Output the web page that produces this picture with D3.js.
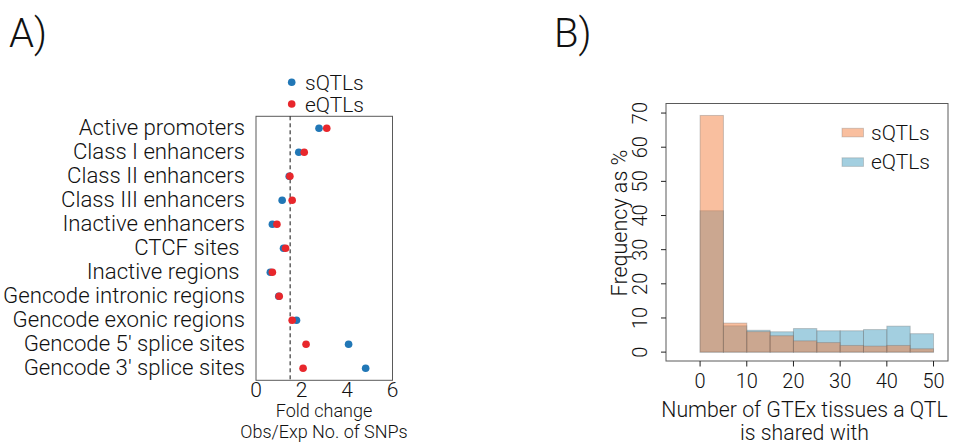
<!DOCTYPE html>
<html>
<head>
<meta charset="utf-8">
<script src="https://cdn.jsdelivr.net/npm/d3@7"></script>
<style>
  html, body { margin: 0; padding: 0; background: #fff; }
  svg text { font-family: Roboto, "Liberation Sans", Arial, sans-serif; font-weight: 300; fill: #111; white-space: pre; }
</style>
</head>
<body>
<svg id="fig" width="959" height="446"></svg>
<script>
// Panel A: enrichment of QTL SNPs in regulatory annotations
const categories = [
  "Active promoters", "Class I enhancers", "Class II enhancers", "Class III enhancers",
  "Inactive enhancers", "CTCF sites ", "Inactive regions ", "Gencode intronic regions",
  "Gencode exonic regions", "Gencode 5' splice sites", "Gencode 3' splice sites"
];
const sqtlFold = [2.77, 1.88, 1.46, 1.15, 0.72, 1.21, 0.63, 1.00, 1.78, 4.07, 4.82];
const eqtlFold = [3.11, 2.12, 1.49, 1.59, 0.92, 1.30, 0.72, 1.02, 1.59, 2.20, 2.07];
const referenceFold = 1.5;
const foldTicks = [0, 2, 4, 6];

// Panel B: tissue sharing histogram (percent of QTLs per bin of 5 tissues)
const binStarts = [0, 5, 10, 15, 20, 25, 30, 35, 40, 45];
const binWidth = 5;
const sqtlPct = [69.3, 8.5, 6.0, 4.8, 3.3, 2.8, 1.95, 1.76, 1.95, 0.98];
const eqtlPct = [41.4, 7.7, 6.4, 5.96, 6.9, 6.25, 6.25, 6.6, 7.6, 5.4];
const shareTicks = [0, 10, 20, 30, 40, 50];
const freqTicks = [0, 10, 20, 30, 40, 50, 60, 70];

const dotColors = { s: "#2177b6", e: "#e8272c" };
const histColors = { s: "#f3803f", e: "#47a0c2" };

const svg = d3.select("#fig");
const boxStroke = "#5a5a5a";

// ---------- Panel A ----------
const xA = d3.scaleLinear().domain([0, 6]).range([256, 392.5]);
const yA = d3.scaleLinear().domain([-0.5, categories.length - 0.5]).range([116.3, 380.3]);
const gA = svg.append("g");

gA.append("rect")
  .attr("x", xA(0)).attr("y", yA(-0.5))
  .attr("width", xA(6) - xA(0)).attr("height", yA(categories.length - 0.5) - yA(-0.5))
  .attr("fill", "none").attr("stroke", boxStroke).attr("stroke-width", 1);

gA.append("line")
  .attr("x1", xA(referenceFold)).attr("x2", xA(referenceFold))
  .attr("y1", yA(-0.5)).attr("y2", yA(categories.length - 0.5))
  .attr("stroke", "#111").attr("stroke-width", 1).attr("stroke-dasharray", "4,3");

gA.selectAll("text.cat").data(categories).join("text")
  .attr("class", "cat")
  .attr("x", 245).attr("y", (d, i) => yA(i) + 7)
  .attr("text-anchor", "end").attr("font-size", 22.2)
  .text(d => d);

gA.selectAll("circle.s").data(sqtlFold).join("circle")
  .attr("class", "s").attr("cx", d => xA(d)).attr("cy", (d, i) => yA(i))
  .attr("r", 3.8).attr("fill", dotColors.s);
gA.selectAll("circle.e").data(eqtlFold).join("circle")
  .attr("class", "e").attr("cx", d => xA(d)).attr("cy", (d, i) => yA(i))
  .attr("r", 3.8).attr("fill", dotColors.e);

gA.selectAll("text.xt").data(foldTicks).join("text")
  .attr("class", "xt").attr("x", d => xA(d)).attr("y", 397)
  .attr("text-anchor", "middle").attr("font-size", 21).text(d => d);

gA.append("text").attr("x", 324).attr("y", 417).attr("text-anchor", "middle")
  .attr("font-size", 18).text("Fold change");
gA.append("text").attr("x", 324).attr("y", 437.5).attr("text-anchor", "middle")
  .attr("font-size", 18).text("Obs/Exp No. of SNPs");

// legend
const legA = [{ label: "sQTLs", c: dotColors.s }, { label: "eQTLs", c: dotColors.e }];
legA.forEach((d, i) => {
  gA.append("circle").attr("cx", 291.7).attr("cy", 82.3 + i * 21.7).attr("r", 3.8).attr("fill", d.c);
  gA.append("text").attr("x", 305).attr("y", 90 + i * 21.7).attr("font-size", 21).text(d.label);
});

svg.append("text").attr("x", 9).attr("y", 47).attr("font-size", 40).text("A)");

// ---------- Panel B ----------
const xB = d3.scaleLinear().domain([-7.3, 53.1]).range([666, 948]);
const yB = d3.scaleLinear().domain([-2.6, 72.8]).range([361, 103.5]);
const gB = svg.append("g");

const barStroke = "rgba(110,110,110,0.35)";
gB.selectAll("rect.e").data(eqtlPct).join("rect")
  .attr("class", "e")
  .attr("x", (d, i) => xB(binStarts[i])).attr("y", d => yB(d))
  .attr("width", (d, i) => xB(binStarts[i] + binWidth) - xB(binStarts[i]))
  .attr("height", d => yB(0) - yB(d))
  .attr("fill", histColors.e).attr("fill-opacity", 0.5)
  .attr("stroke", barStroke).attr("stroke-width", 1);
gB.selectAll("rect.s").data(sqtlPct).join("rect")
  .attr("class", "s")
  .attr("x", (d, i) => xB(binStarts[i])).attr("y", d => yB(d))
  .attr("width", (d, i) => xB(binStarts[i] + binWidth) - xB(binStarts[i]))
  .attr("height", d => yB(0) - yB(d))
  .attr("fill", histColors.s).attr("fill-opacity", 0.5)
  .attr("stroke", barStroke).attr("stroke-width", 1);

gB.append("rect")
  .attr("x", xB(-7.3)).attr("y", yB(72.8))
  .attr("width", xB(53.1) - xB(-7.3)).attr("height", yB(-2.6) - yB(72.8))
  .attr("fill", "none").attr("stroke", boxStroke).attr("stroke-width", 1);

// x axis ticks + labels
gB.selectAll("line.xt").data(shareTicks).join("line")
  .attr("class", "xt").attr("x1", d => xB(d)).attr("x2", d => xB(d))
  .attr("y1", 361).attr("y2", 366.5).attr("stroke", "#222");
gB.selectAll("text.xt").data(shareTicks).join("text")
  .attr("class", "xt").attr("x", d => xB(d)).attr("y", 388)
  .attr("text-anchor", "middle").attr("font-size", 20).text(d => d);

// y axis ticks + rotated labels
gB.selectAll("line.yt").data(freqTicks).join("line")
  .attr("class", "yt").attr("x1", 661).attr("x2", 666)
  .attr("y1", d => yB(d)).attr("y2", d => yB(d)).attr("stroke", "#222");
gB.selectAll("text.yt").data(freqTicks).join("text")
  .attr("class", "yt")
  .attr("transform", d => `translate(647,${yB(d)}) rotate(-90)`)
  .attr("text-anchor", "middle").attr("font-size", 20).text(d => d);

gB.append("text")
  .attr("transform", "translate(627,223) rotate(-90)")
  .attr("text-anchor", "middle").attr("font-size", 21.5).text("Frequency as %");

gB.append("text").attr("x", 804.5).attr("y", 417).attr("text-anchor", "middle")
  .attr("font-size", 21.3).text("Number of GTEx tissues a QTL");
gB.append("text").attr("x", 804.5).attr("y", 440).attr("text-anchor", "middle")
  .attr("font-size", 21.3).text("is shared with");

// legend
const legB = [{ label: "sQTLs", c: histColors.s }, { label: "eQTLs", c: histColors.e }];
legB.forEach((d, i) => {
  gB.append("rect").attr("x", 842).attr("y", 128.3 + i * 29.5).attr("width", 21.5).attr("height", 8.6)
    .attr("fill", d.c).attr("fill-opacity", 0.5).attr("stroke", "rgba(110,110,110,0.3)");
  gB.append("text").attr("x", 871).attr("y", 139.5 + i * 29).attr("font-size", 21).text(d.label);
});

svg.append("text").attr("x", 554).attr("y", 47).attr("font-size", 40).text("B)");
</script>
</body>
</html>
